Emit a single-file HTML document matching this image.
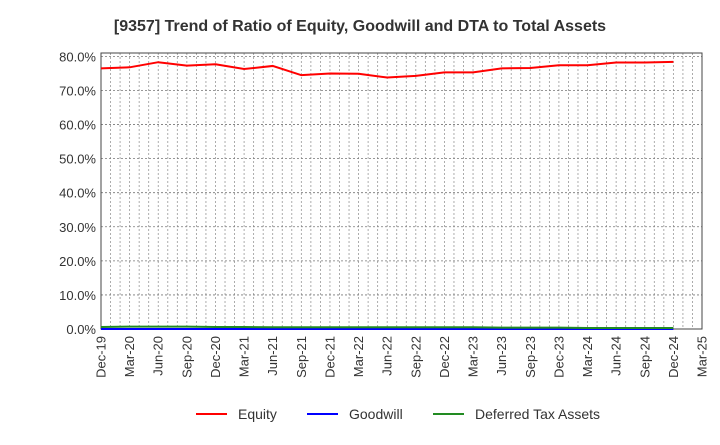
<!DOCTYPE html>
<html><head><meta charset="utf-8"><style>
body{margin:0;background:#fff;font-family:"Liberation Sans",sans-serif}
</style></head><body>
<svg id="c" width="720" height="440" xmlns="http://www.w3.org/2000/svg">
<text x="360" y="31" text-anchor="middle" font-size="16" font-weight="bold" fill="#333">[9357]  Trend of Ratio of Equity, Goodwill and DTA to Total Assets</text>
</svg>
<script>
const categories=["Dec-19","Mar-20","Jun-20","Sep-20","Dec-20","Mar-21","Jun-21","Sep-21","Dec-21","Mar-22","Jun-22","Sep-22","Dec-22","Mar-23","Jun-23","Sep-23","Dec-23","Mar-24","Jun-24","Sep-24","Dec-24","Mar-25"];
const equity=[76.5,76.8,78.3,77.3,77.7,76.3,77.2,74.5,75.0,74.9,73.8,74.3,75.3,75.3,76.5,76.6,77.4,77.4,78.2,78.2,78.4];
const goodwill=[0,0,0,0,0,0,0,0,0,0,0,0,0,0,0,0,0,0,0,0,0];
const dta=[0.6,0.7,0.7,0.7,0.6,0.6,0.5,0.5,0.5,0.5,0.5,0.5,0.5,0.5,0.4,0.4,0.4,0.3,0.3,0.3,0.3];
const yTicks=[0,10,20,30,40,50,60,70,80];
const L=101,R=702,T=53,B=329,yMax=81;
const svg=document.getElementById('c');const NS="http://www.w3.org/2000/svg";
const step=(R-L)/(categories.length-1);
const X=i=>L+i*step, Y=v=>B-(v/yMax)*(B-T);
function mk(t,a,p){const e=document.createElementNS(NS,t);for(const k in a)e.setAttribute(k,a[k]);(p||svg).appendChild(e);return e;}
for(let m=1;m<(categories.length-1)*3;m++){const x=L+m*step/3;
const g=mk('line',{x1:x,x2:x,y1:T,y2:B,stroke:'#999','stroke-dasharray':'2,2','stroke-width':0.8});

}
yTicks.forEach(v=>{const y=Y(v);
if(v>0){const g=mk('line',{x1:L,x2:R,y1:y,y2:y,stroke:'#777','stroke-dasharray':'2,2','stroke-width':0.8});

}
const t=mk('text',{x:L-5,y:y+5,'text-anchor':'end','font-size':13,fill:'#333'});t.textContent=v.toFixed(1)+'%';

});
const box=mk('rect',{x:L,y:T,width:R-L,height:B-T,fill:'none',stroke:'#444','stroke-width':1});


categories.forEach((c,i)=>{const x=X(i);
const t=mk('text',{transform:`translate(${x+4.5},${B+7}) rotate(-90)`,'text-anchor':'end','font-size':13,fill:'#333'});t.textContent=c;

});
function line(d,col,name){const p=mk('polyline',{points:d.map((v,i)=>X(i)+','+Y(v)).join(' '),fill:'none',stroke:col,'stroke-width':2});

}
line(goodwill,'#0000ff','goodwill-line');
line(dta,'#228b22','dta-line');
line(equity,'#ff0000','equity-line');
[['Equity','#ff0000',196],['Goodwill','#0000ff',307],['Deferred Tax Assets','#228b22',433]].forEach(([n,c,x])=>{
const g=mk('g',{});


mk('line',{x1:x,x2:x+31,y1:414,y2:414,stroke:c,'stroke-width':2},g);
const t=mk('text',{x:x+42,y:419,'font-size':14,fill:'#333'},g);t.textContent=n;});
</script>
</body></html>
